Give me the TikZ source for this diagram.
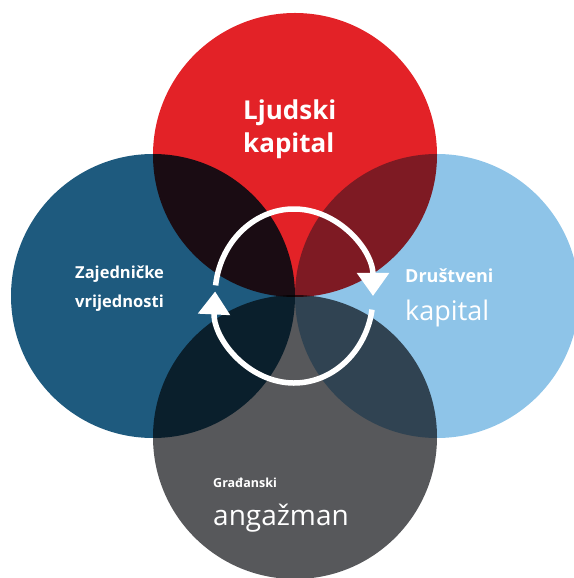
\documentclass[tikz,border=0pt]{standalone}
\usepackage{fontspec}
\setmainfont{Open Sans}
\usetikzlibrary{arrows.meta}
\definecolor{crvena}{RGB}{227,34,39}
\definecolor{tamnoplava}{RGB}{30,90,126}
\definecolor{svijetloplava}{RGB}{142,196,232}
\definecolor{siva}{RGB}{87,88,91}
\newcommand{\krug}[3]{
  \node[krug, fill=#1] (#2) at (#3) {};
}
\newcommand{\velicina}[2]{\fontsize{#1}{#2}\selectfont}
\tikzset{
  krug/.style     = {circle, minimum size=284pt, inner sep=0pt},
  natpis/.style   = {text=white, anchor=west, inner sep=0pt, align=left},
  strelica/.style = {white, line width=5.5pt, -{Triangle[width=31pt,length=23pt]}}
}

\begin{document}
\begin{tikzpicture}[x=1pt,y=1pt]
	\useasboundingbox (0,0) rectangle (573,578);
	\begin{scope}[blend group=multiply]
	\krug{crvena}{ljudski}{295,423}
	\krug{tamnoplava}{zajednicke}{153,282}
	\krug{svijetloplava}{drustveni}{437,282}
	\krug{siva}{gradanski}{295,141}
	\end{scope}
	\node[natpis, font=\velicina{26}{33}\bfseries] (ljudskitxt) at (243,449) {Ljudski\\kapital};
	\node[natpis, font=\velicina{16.5}{29}\bfseries] (zajednicketxt) at (75,289) {Zajedničke\\vrijednosti};
	\node[natpis, font=\velicina{18}{21}\bfseries] (drustvenitxt) at (405,302) {Društveni};
	\node[natpis, font=\velicina{27}{30}] (kapitaltxt) at (405,265) {kapital};
	\node[natpis, font=\velicina{12.5}{15}\bfseries] (gradanskitxt) at (213,95) {Građanski};
	\node[natpis, font=\velicina{28}{32}] (angazmantxt) at (213,60) {angažman};
	\coordinate (sredina) at (294,282);
	\draw[strelica] (sredina) ++(173:79pt and 87pt) arc[start angle=173, end angle=0, x radius=79pt, y radius=87pt];
	\draw[strelica] (sredina) ++(-9:79pt and 87pt) arc[start angle=-9, end angle=-183, x radius=79pt, y radius=87pt];
\end{tikzpicture}
\end{document}
